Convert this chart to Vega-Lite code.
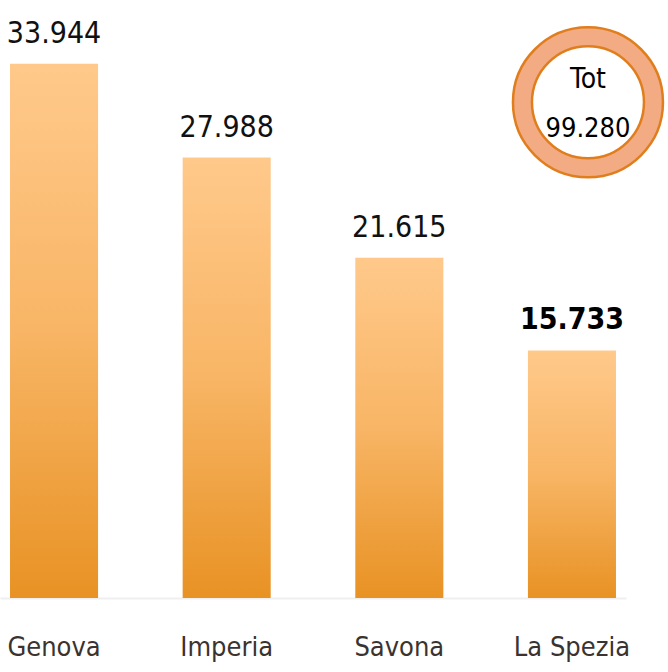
{
  "$schema": "https://vega.github.io/schema/vega-lite/v6.json",
  "autosize": {"type": "none"},
  "padding": {"left": 0, "top": 0, "right": 42, "bottom": 74},
  "width": 626,
  "height": 598,
  "background": "white",
  "config": {
    "view": {"stroke": null},
    "locale": {"number": {"decimal": ",", "thousands": ".", "grouping": [3], "currency": ["€", ""]}}
  },
  "datasets": {
    "bars": [
      {"provincia": "Genova", "valore": 33944, "peso": "normal"},
      {"provincia": "Imperia", "valore": 27988, "peso": "normal"},
      {"provincia": "Savona", "valore": 21615, "peso": "normal"},
      {"provincia": "La Spezia", "valore": 15733, "peso": "bold"}
    ],
    "tot": [
      {"provincia": "La Spezia", "livello": 31500, "totale": 99280, "etichetta": "Tot"}
    ]
  },
  "layer": [
    {
      "data": {"name": "bars"},
      "mark": {
        "type": "bar",
        "color": {
          "gradient": "linear",
          "x1": 0, "y1": 0, "x2": 0, "y2": 1,
          "stops": [
            {"offset": 0, "color": "#FFC98B"},
            {"offset": 0.5, "color": "#F8B565"},
            {"offset": 1, "color": "#E89224"}
          ]
        }
      },
      "encoding": {
        "x": {
          "field": "provincia", "type": "nominal", "sort": null,
          "scale": {"paddingInner": 0.49, "paddingOuter": 0.058},
          "axis": {
            "title": null, "ticks": false, "domain": true, "domainColor": "#EFEFEF", "domainWidth": 2,
            "labelAngle": 0, "labelFont": "DejaVu Sans Condensed", "labelFontSize": 27,
            "labelColor": "#3A3330", "labelPadding": 36
          }
        },
        "y": {
          "field": "valore", "type": "quantitative",
          "scale": {"domain": [0, 38000], "nice": false},
          "axis": null
        }
      }
    },
    {
      "data": {"name": "bars"},
      "transform": [{"filter": "datum.peso === 'normal'"}],
      "mark": {"type": "text", "baseline": "alphabetic", "dy": -21, "font": "DejaVu Sans Condensed", "fontSize": 30, "color": "#111111"},
      "encoding": {
        "x": {"field": "provincia", "type": "nominal", "sort": null},
        "y": {"field": "valore", "type": "quantitative"},
        "text": {"field": "valore", "type": "quantitative", "format": ",.0f"}
      }
    },
    {
      "data": {"name": "bars"},
      "transform": [{"filter": "datum.peso === 'bold'"}],
      "mark": {"type": "text", "baseline": "alphabetic", "dy": -21, "font": "DejaVu Sans Condensed", "fontWeight": "bold", "fontSize": 30, "color": "#000000"},
      "encoding": {
        "x": {"field": "provincia", "type": "nominal", "sort": null},
        "y": {"field": "valore", "type": "quantitative"},
        "text": {"field": "valore", "type": "quantitative", "format": ",.0f"}
      }
    },
    {
      "data": {"name": "tot"},
      "mark": {"type": "arc", "outerRadius": 75, "innerRadius": 56, "xOffset": 16, "fill": "#F2AB82", "stroke": "#E07E1E", "strokeWidth": 2.5},
      "encoding": {
        "x": {"field": "provincia", "type": "nominal", "sort": null},
        "y": {"field": "livello", "type": "quantitative"},
        "theta": {"field": "totale", "type": "quantitative"}
      }
    },
    {
      "data": {"name": "tot"},
      "mark": {"type": "text", "xOffset": 16, "dy": -22, "baseline": "middle", "font": "DejaVu Sans Condensed", "fontSize": 28, "color": "#000000"},
      "encoding": {
        "x": {"field": "provincia", "type": "nominal", "sort": null},
        "y": {"field": "livello", "type": "quantitative"},
        "text": {"field": "etichetta", "type": "nominal"}
      }
    },
    {
      "data": {"name": "tot"},
      "mark": {"type": "text", "xOffset": 16, "dy": 27, "baseline": "middle", "font": "DejaVu Sans Condensed", "fontSize": 27, "color": "#000000"},
      "encoding": {
        "x": {"field": "provincia", "type": "nominal", "sort": null},
        "y": {"field": "livello", "type": "quantitative"},
        "text": {"field": "totale", "type": "quantitative", "format": ",.0f"}
      }
    }
  ]
}
